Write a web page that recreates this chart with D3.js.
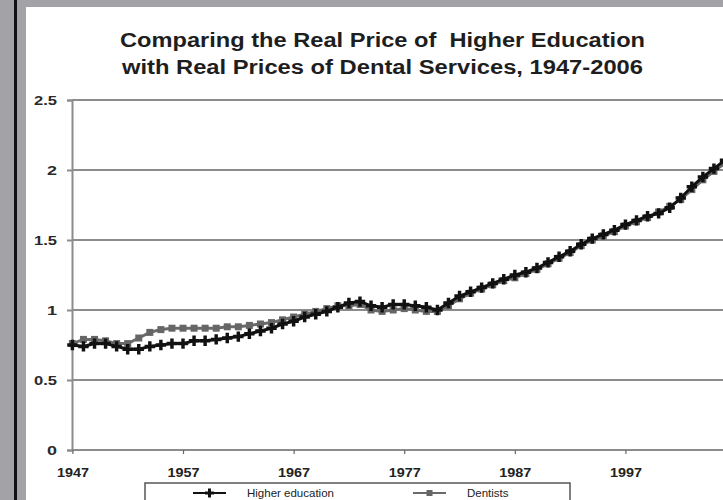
<!DOCTYPE html>
<html>
<head>
<meta charset="utf-8">
<script src="https://cdn.jsdelivr.net/npm/d3@7/dist/d3.min.js"></script>
<style>
  html, body { margin: 0; padding: 0; background: #a3a3a7; }
  svg { display: block; }
  text { font-family: "Liberation Sans", Arial, sans-serif; }
  .title { white-space: pre; }
</style>
</head>
<body>
<svg id="chart" width="723" height="500"></svg>
<script>
const titleLines = ["Comparing the Real Price of  Higher Education",
                    "with Real Prices of Dental Services, 1947-2006"];
const years = d3.range(1947, 2007);
const higherEducation = [
  0.75, 0.74, 0.76, 0.76, 0.74, 0.72, 0.72, 0.74, 0.75, 0.76,
  0.76, 0.78, 0.78, 0.79, 0.80, 0.81, 0.83, 0.85, 0.87, 0.90,
  0.92, 0.95, 0.97, 0.99, 1.02, 1.05, 1.06, 1.03, 1.02, 1.04,
  1.04, 1.03, 1.02, 1.00, 1.05, 1.10, 1.13, 1.16, 1.19, 1.22,
  1.25, 1.27, 1.30, 1.34, 1.38, 1.42, 1.47, 1.51, 1.54, 1.57,
  1.61, 1.64, 1.67, 1.69, 1.73, 1.80, 1.88, 1.95, 2.01, 2.07
];
const dentists = [
  0.76, 0.79, 0.79, 0.78, 0.76, 0.76, 0.80, 0.84, 0.86, 0.87,
  0.87, 0.87, 0.87, 0.87, 0.88, 0.88, 0.89, 0.90, 0.91, 0.93,
  0.95, 0.97, 0.99, 1.01, 1.03, 1.03, 1.04, 1.00, 0.99, 1.00,
  1.01, 1.00, 0.99, 0.99, 1.03, 1.08, 1.12, 1.15, 1.18, 1.21,
  1.23, 1.26, 1.29, 1.33, 1.37, 1.41, 1.46, 1.50, 1.53, 1.56,
  1.60, 1.63, 1.66, 1.70, 1.74, 1.79, 1.86, 1.93, 1.99, 2.05
];
const yTicks = [0, 0.5, 1, 1.5, 2, 2.5];
const yTickLabels = ["0", "0.5", "1", "1.5", "2", "2.5"];
const xTicks = [1947, 1957, 1967, 1977, 1987, 1997];
const seriesNames = ["Higher education", "Dentists"];

const svg = d3.select("#chart");

// background panels
svg.append("rect").attr("x", 0).attr("y", 0).attr("width", 723).attr("height", 500).attr("fill", "#a3a3a7");
svg.append("rect").attr("x", 14).attr("y", 0).attr("width", 3).attr("height", 500).attr("fill", "#111");
svg.append("rect").attr("x", 26).attr("y", 7).attr("width", 697).attr("height", 493).attr("fill", "#ffffff");

const x = d3.scaleLinear().domain([1947, 2006]).range([72.4, 725]);
const y = d3.scaleLinear().domain([0, 2.5]).range([450, 100]);

// title
svg.selectAll("text.title").data(titleLines).enter().append("text")
  .attr("class", "title")
  .attr("xml:space", "preserve")
  .attr("x", 382.5).attr("y", (d, i) => 47 + i * 27)
  .attr("text-anchor", "middle")
  .attr("font-size", 20).attr("font-weight", "bold").attr("fill", "#1e1e1e")
  .attr("textLength", (d, i) => i === 0 ? 525 : 521)
  .attr("lengthAdjust", "spacingAndGlyphs")
  .text(d => d);

// gridlines
svg.append("g").selectAll("line").data(yTicks).enter().append("line")
  .attr("x1", 72).attr("x2", 723)
  .attr("y1", d => y(d)).attr("y2", d => y(d))
  .attr("stroke", "#8c8c8c").attr("stroke-width", 2);

// y axis
const yAxis = d3.axisLeft(y).tickValues(yTicks)
  .tickFormat((d, i) => yTickLabels[i]).tickSize(5).tickPadding(10);
const gy = svg.append("g").attr("transform", "translate(72,0)").call(yAxis);
gy.select(".domain").attr("stroke", "#8c8c8c").attr("stroke-width", 2);
gy.selectAll(".tick line").attr("stroke", "#8c8c8c").attr("stroke-width", 2);
gy.selectAll(".tick text").attr("font-size", 13).attr("fill", "#2a2a2a")
  .attr("font-family", "'Liberation Sans', Arial, sans-serif")
  .attr("font-weight", "bold")
  .attr("textLength", (d, i) => yTickLabels[i].length === 3 ? 23 : 10)
  .attr("lengthAdjust", "spacingAndGlyphs");

// x axis
const xAxis = d3.axisBottom(x).tickValues(xTicks).tickFormat(d3.format("d"))
  .tickSize(4).tickPadding(14);
const gx = svg.append("g").attr("transform", "translate(0,450)").call(xAxis);
gx.select(".domain").remove();
gx.selectAll(".tick line").attr("stroke", "#666").attr("stroke-width", 1.2);
gx.selectAll(".tick text").attr("font-size", 12).attr("fill", "#222")
  .attr("font-weight", "bold")
  .attr("font-family", "'Liberation Sans', Arial, sans-serif")
  .attr("textLength", 32).attr("lengthAdjust", "spacingAndGlyphs");

const line = d3.line().x((d, i) => x(years[i])).y(d => y(d));

// dentists series
svg.append("path").datum(dentists).attr("d", line)
  .attr("fill", "none").attr("stroke", "#6a6a6a").attr("stroke-width", 3);
svg.append("g").selectAll("rect").data(dentists).enter().append("rect")
  .attr("x", (d, i) => x(years[i]) - 3.5).attr("y", d => y(d) - 3.5)
  .attr("width", 7).attr("height", 7).attr("fill", "#666");

// higher education series
svg.append("path").datum(higherEducation).attr("d", line)
  .attr("fill", "none").attr("stroke", "#111").attr("stroke-width", 3);
const sym = d3.symbol().type(d3.symbolCross).size(60);
svg.append("g").selectAll("path").data(higherEducation).enter().append("path")
  .attr("transform", (d, i) => `translate(${x(years[i])},${y(d)})`)
  .attr("d", sym).attr("fill", "#111");

// legend
const lg = svg.append("g");
lg.append("rect").attr("x", 145).attr("y", 483).attr("width", 425).attr("height", 30)
  .attr("fill", "#fff").attr("stroke", "#555").attr("stroke-width", 1.5);
const legendItems = [
  {name: seriesNames[0], lx: 193, tx: 247, color: "#111", marker: "cross"},
  {name: seriesNames[1], lx: 413, tx: 467, color: "#6a6a6a", marker: "square"}
];
const symSmall = d3.symbol().type(d3.symbolCross).size(45);
legendItems.forEach(it => {
  lg.append("line").attr("x1", it.lx).attr("x2", it.lx + 33).attr("y1", 493).attr("y2", 493)
    .attr("stroke", it.color).attr("stroke-width", 2);
  if (it.marker === "cross") {
    lg.append("path").attr("transform", `translate(${it.lx + 16.5},493)`).attr("d", symSmall).attr("fill", it.color);
  } else {
    lg.append("rect").attr("x", it.lx + 13.5).attr("y", 490).attr("width", 6).attr("height", 6).attr("fill", "#666");
  }
  lg.append("text").attr("x", it.tx).attr("y", 496.5).attr("font-size", 11.5).attr("fill", "#222")
    .text(it.name);
});
</script>
</body>
</html>
